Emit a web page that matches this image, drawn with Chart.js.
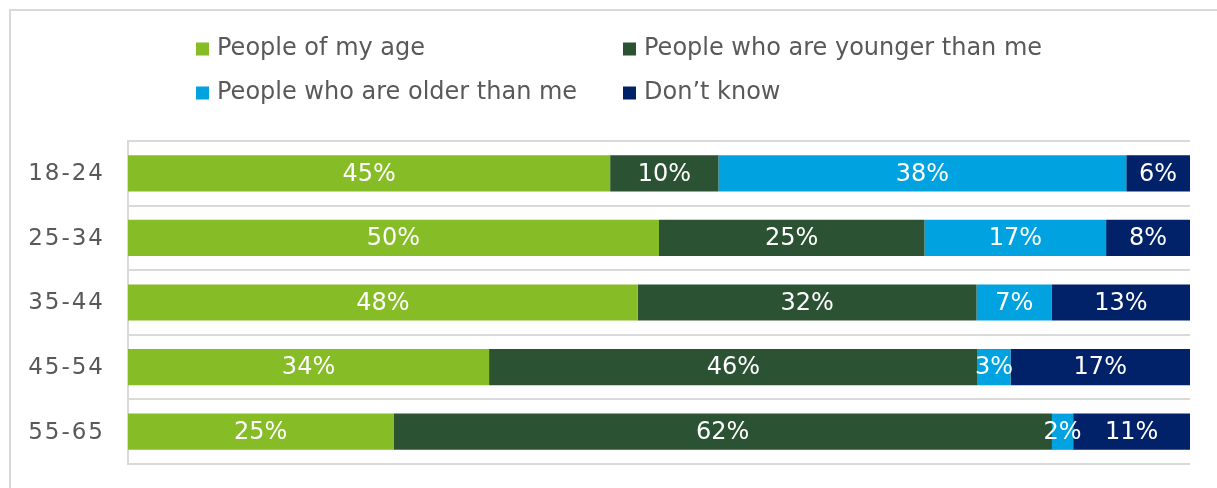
<!DOCTYPE html>
<html>
<head>
<meta charset="utf-8">
<title>Who do you prefer to work with - by age group</title>
<script src="https://cdn.jsdelivr.net/npm/chart.js@4/dist/chart.umd.min.js"></script>
<style>
  html, body { margin: 0; padding: 0; background: #fff; overflow: hidden; }
  #chart { display: block; }
</style>
</head>
<body>
<canvas id="chart" width="1217" height="488"></canvas>
<script>
// Age groups and answer shares (percent of each row)
const ageGroups = ['18-24', '25-34', '35-44', '45-54', '55-65'];
const seriesNames = ['People of my age', 'People who are younger than me', 'People who are older than me', 'Don\u2019t know'];
const sameAge = [45.4, 50.0, 48.0, 34.0, 25.0];
const younger = [10.2, 25.0, 31.9, 46.0, 62.0];
const older = [38.4, 17.1, 7.1, 3.1, 2.0];
const dontKnow = [6.0, 7.9, 13.0, 16.9, 11.0];

const colors = ['#86BC25', '#2C5234', '#00A3E0', '#012169'];
const FONT = '"DejaVu Sans", Verdana, sans-serif';
const TEXT_GREY = '#595959';
const LINE_GREY = '#D9D9D9';

// Top and left edges of the figure frame
const framePlugin = {
    id: 'frame',
    beforeDraw(chart) {
        const ctx = chart.ctx;
        ctx.save();
        ctx.fillStyle = LINE_GREY;
        ctx.fillRect(9, 9, chart.width - 9, 2);
        ctx.fillRect(9, 9, 2, chart.height - 9);
        ctx.restore();
    }
};

// Two-column legend above the plot
const legendPlugin = {
    id: 'gridLegend',
    afterDraw(chart, args, opts) {
        const ctx = chart.ctx;
        ctx.save();
        ctx.font = '24px ' + FONT;
        ctx.textBaseline = 'middle';
        ctx.textAlign = 'left';
        chart.data.datasets.forEach((ds, i) => {
            const col = i % 2, row = Math.floor(i / 2);
            const x = opts.columns[col];
            const y = opts.rows[row];
            ctx.fillStyle = ds.backgroundColor;
            ctx.fillRect(x, y - 6.5, 13, 13);
            ctx.fillStyle = TEXT_GREY;
            ctx.fillText(ds.label, x + 21, y);
        });
        ctx.restore();
    }
};

// Category labels with wide letter spacing
const ageLabelPlugin = {
    id: 'ageLabels',
    afterDraw(chart) {
        const ctx = chart.ctx;
        const yScale = chart.scales.y;
        ctx.save();
        ctx.font = '23px ' + FONT;
        ctx.letterSpacing = '2px';
        ctx.fillStyle = TEXT_GREY;
        ctx.textAlign = 'right';
        ctx.textBaseline = 'middle';
        ageGroups.forEach((g, i) => {
            ctx.fillText(g, 105, yScale.getPixelForValue(i) + 1);
        });
        ctx.restore();
    }
};

// White percentage labels centred in each segment
const valueLabelPlugin = {
    id: 'valueLabels',
    afterDatasetsDraw(chart) {
        const ctx = chart.ctx;
        ctx.save();
        ctx.font = '24px ' + FONT;
        ctx.fillStyle = '#ffffff';
        ctx.textAlign = 'center';
        ctx.textBaseline = 'middle';
        chart.data.datasets.forEach((ds, i) => {
            const meta = chart.getDatasetMeta(i);
            meta.data.forEach((bar, j) => {
                const p = bar.getCenterPoint();
                ctx.fillText(Math.round(ds.data[j]) + '%', p.x, p.y + 1);
            });
        });
        ctx.restore();
    }
};

const seriesData = [sameAge, younger, older, dontKnow];

new Chart(document.getElementById('chart'), {
    type: 'bar',
    data: {
        labels: ageGroups,
        datasets: seriesNames.map((name, i) => ({
            label: name,
            data: seriesData[i],
            backgroundColor: colors[i],
            borderWidth: 0,
            categoryPercentage: 1,
            barPercentage: 0.56
        }))
    },
    options: {
        indexAxis: 'y',
        responsive: false,
        animation: false,
        layout: { padding: { left: 128, right: 27, top: 141, bottom: 24 } },
        plugins: {
            legend: { display: false },
            tooltip: { enabled: false },
            gridLegend: { columns: [196, 623], rows: [49, 93] }
        },
        scales: {
            x: { stacked: true, min: 0, max: 100, display: false },
            y: {
                stacked: true,
                ticks: { display: false },
                grid: { color: LINE_GREY, lineWidth: 2, drawTicks: false, offset: true },
                border: { display: true, color: LINE_GREY, width: 2 }
            }
        }
    },
    plugins: [framePlugin, legendPlugin, ageLabelPlugin, valueLabelPlugin]
});
</script>
</body>
</html>
